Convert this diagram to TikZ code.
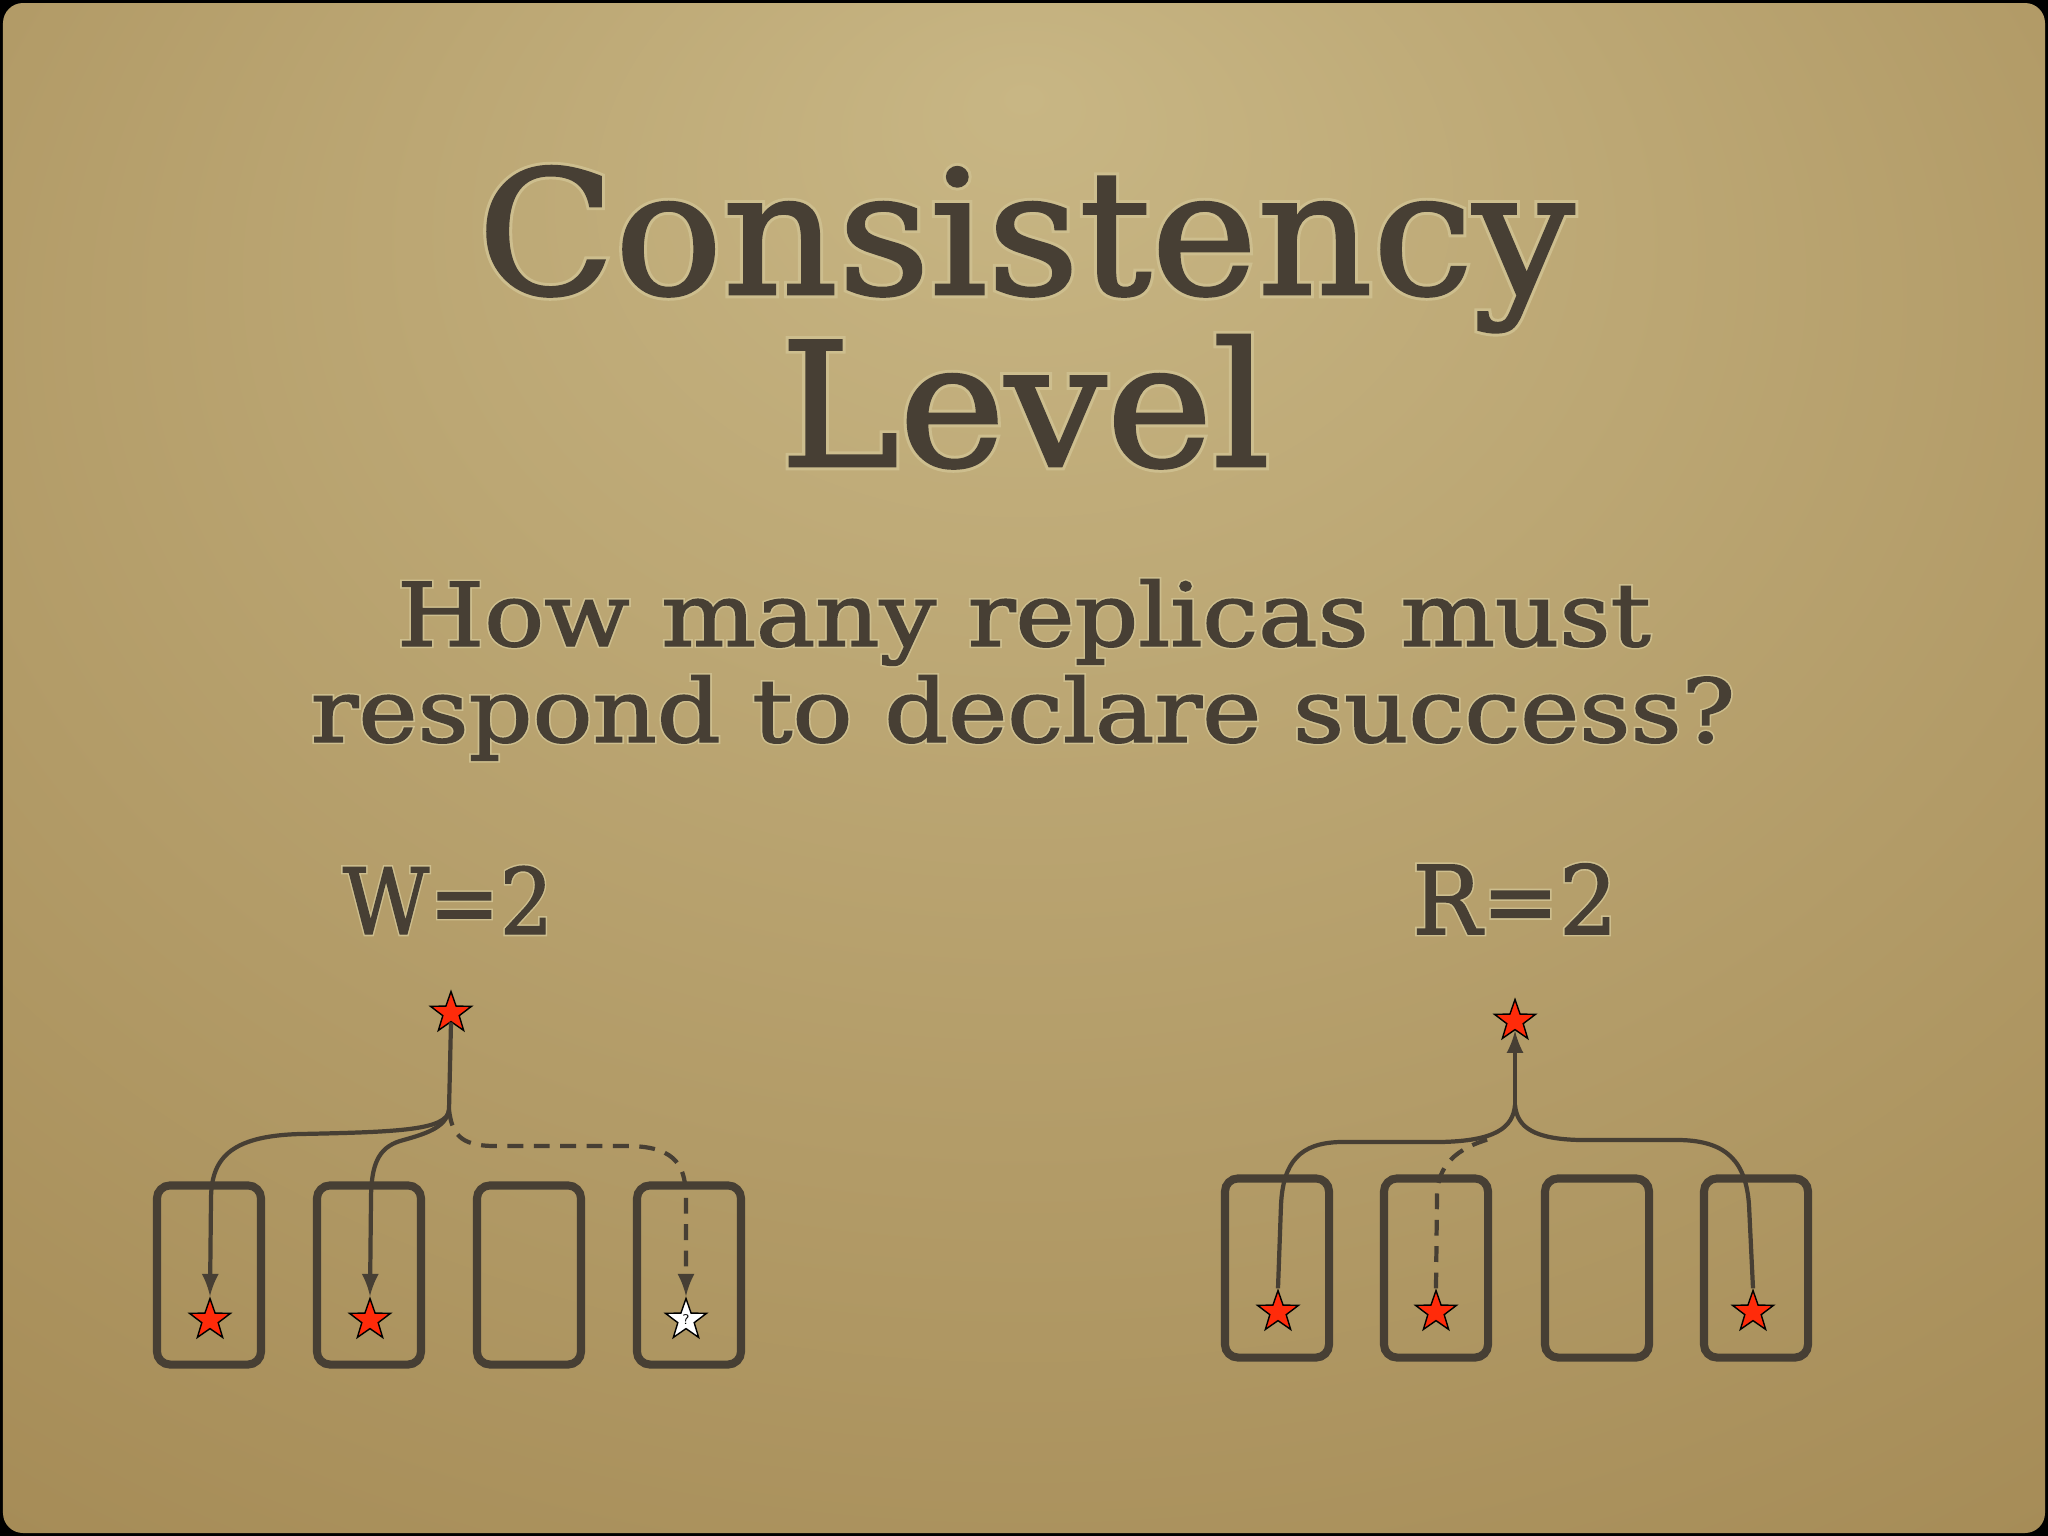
\documentclass[tikz,border=0pt]{standalone}
\usepackage{fontspec}
\setmainfont{DejaVu Serif}
\newfontfamily\slidefont{DejaVu Serif}[FakeBold=1.6]
\newfontfamily\glowfont{DejaVu Serif}[FakeBold=5]
\usepackage{tikz}
\usetikzlibrary{arrows,shapes.geometric}

\definecolor{ink}{HTML}{473F34}
\definecolor{glow}{HTML}{CDBE8E}
\definecolor{paperlight}{HTML}{C8B684}
\definecolor{paperdark}{HTML}{A68C57}
\definecolor{paperedge}{HTML}{9A804C}
\definecolor{starred}{HTML}{FF2B0A}
\pgfdeclareradialshading{paper}{\pgfpoint{0bp}{22bp}}{color(0bp)=(paperlight); color(42bp)=(paperdark); color(70bp)=(paperedge)}

% text with a soft light rim, stretched sideways by #1
\newcommand{\slidetext}[2]{\scalebox{#1}[1]{\makebox[0pt][l]{\glowfont\color{glow}#2}\slidefont\color{ink}#2}}

\tikzset{
	replica/.style={draw=ink, line width=2.3pt, rounded corners=0.13cm, minimum width=1.04cm, minimum height=1.79cm, inner sep=0pt},
	redstar/.style={star, star points=5, star point ratio=2.5, minimum size=0.43cm, inner sep=0pt, draw=black, line width=0.4pt, fill=starred},
	whitestar/.style={redstar, fill=white, font=\fontsize{4}{4}\selectfont\sffamily},
	conn/.style={draw=ink, line width=1.2pt},
	headline/.style={anchor=base, inner sep=0pt}
}

\begin{document}
\begin{tikzpicture}[x=0.01cm, y=-0.01cm]
		\useasboundingbox (0,0) rectangle (2048,1536);
		\fill [black] (0,0) rectangle (2048,1536);
		\shade [shading=paper, rounded corners=0.2cm] (3,3) rectangle (2045,1533);
		
		\node [headline, font=\fontsize{49}{58}\selectfont] (title1) at (1026,294) {\slidetext{1.04}{Consistency}};
		\node [headline, font=\fontsize{49}{58}\selectfont] (title2) at (1025,466) {\slidetext{1.04}{Level}};
		\node [headline, font=\fontsize{25}{30}\selectfont] (sub1) at (1024,646) {\slidetext{1.135}{How many replicas must}};
		\node [headline, font=\fontsize{25}{30}\selectfont] (sub2) at (1023,742) {\slidetext{1.135}{respond to declare success?}};
		
		% write side
		\node [headline, font=\fontsize{26}{32}\selectfont] (wlabel) at (448,934) {\slidetext{0.92}{W=2}};
		\node [replica] (w1) at (209,1275) {};
		\node [replica] (w2) at (369,1275) {};
		\node [replica] (w3) at (529,1275) {};
		\node [replica] (w4) at (689,1275) {};
		\node [redstar] (ws) at (451,1013) {};
		\node [redstar] (w1s) at (210,1320) {};
		\node [redstar] (w2s) at (370,1320) {};
		\node [whitestar] (w4s) at (686,1320) {?};
		\coordinate (wfork) at (449,1110);
		
		\draw [conn] (ws.south) -- (wfork);
		\draw [conn, -latex] (wfork) .. controls (447,1130) and (400,1132) .. (300,1134) .. controls (228,1136) and (211,1160) .. (211,1200) -- (w1s.north);
		\draw [conn, -latex] (wfork) .. controls (446,1128) and (425,1134) .. (400,1141) .. controls (378,1148) and (371,1165) .. (371,1200) -- (w2s.north);
		\draw [conn, dashed, dash pattern=on 4.5pt off 3pt, -latex] (wfork) .. controls (452,1132) and (458,1146) .. (495,1146) -- (630,1146) .. controls (678,1147) and (686,1168) .. (686,1200) -- (w4s.north);
		
		% read side
		\node [headline, font=\fontsize{27}{32}\selectfont] (rlabel) at (1515,934) {\slidetext{0.97}{R=2}};
		\node [replica] (r1) at (1277,1268) {};
		\node [replica] (r2) at (1436,1268) {};
		\node [replica] (r3) at (1597,1268) {};
		\node [replica] (r4) at (1756,1268) {};
		\node [redstar] (rs) at (1515,1021) {};
		\node [redstar] (r1s) at (1278,1312) {};
		\node [redstar] (r2s) at (1436,1312) {};
		\node [redstar] (r4s) at (1753,1312) {};
		\coordinate (rfork) at (1515,1105);
		
		\draw [conn, -latex] (rfork) -- (rs.south);
		\draw [conn] (r1s.north) -- (1281,1205) .. controls (1283,1162) and (1300,1143) .. (1340,1142) -- (1440,1142) .. controls (1495,1141) and (1513,1128) .. (rfork);
		\draw [conn, dashed, dash pattern=on 4.5pt off 3pt] (r2s.north) -- (1437,1195) .. controls (1438,1166) and (1455,1148) .. (1493,1138);
		\draw [conn] (r4s.north) -- (1749,1205) .. controls (1746,1162) and (1727,1141) .. (1680,1140) -- (1580,1140) .. controls (1535,1139) and (1517,1128) .. (rfork);
		\end{tikzpicture}
\end{document}
